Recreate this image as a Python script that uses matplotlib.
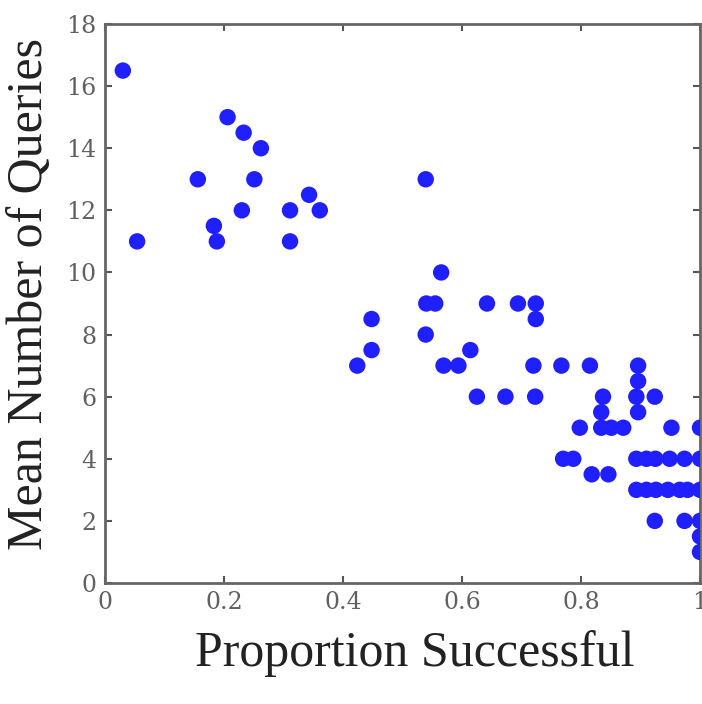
import numpy as np
from matplotlib import pyplot as plt

# proportion successful vs mean number of queries
prop_successful = [
    0.030, 0.054, 0.206, 0.233, 0.262, 0.156, 0.251, 0.230, 0.311, 0.343,
    0.361, 0.183, 0.188, 0.311,
    0.539, 0.565, 0.540, 0.555, 0.642, 0.694, 0.724, 0.724, 0.539,
    0.448, 0.448, 0.424,
    0.614, 0.569, 0.594, 0.720, 0.767, 0.815, 0.896, 0.896,
    0.625, 0.673, 0.723, 0.837, 0.893, 0.924,
    0.834, 0.896,
    0.798, 0.834, 0.851, 0.871, 0.952, 1.000,
    0.770, 0.787, 0.893, 0.910, 0.925, 0.949, 0.974, 1.000,
    0.818, 0.846,
    0.893, 0.910, 0.926, 0.946, 0.966, 0.979, 1.000,
    0.924, 0.974, 1.000, 1.000, 1.000,
]
mean_queries = [
    16.5, 11.0, 15.0, 14.5, 14.0, 13.0, 13.0, 12.0, 12.0, 12.5,
    12.0, 11.5, 11.0, 11.0,
    13.0, 10.0, 9.0, 9.0, 9.0, 9.0, 9.0, 8.5, 8.0,
    8.5, 7.5, 7.0,
    7.5, 7.0, 7.0, 7.0, 7.0, 7.0, 7.0, 6.5,
    6.0, 6.0, 6.0, 6.0, 6.0, 6.0,
    5.5, 5.5,
    5.0, 5.0, 5.0, 5.0, 5.0, 5.0,
    4.0, 4.0, 4.0, 4.0, 4.0, 4.0, 4.0, 4.0,
    3.5, 3.5,
    3.0, 3.0, 3.0, 3.0, 3.0, 3.0, 3.0,
    2.0, 2.0, 2.0, 1.5, 1.0,
]

x_ticks = [0, 0.2, 0.4, 0.6, 0.8, 1]
x_tick_labels = ["0", "0.2", "0.4", "0.6", "0.8", "1"]
y_ticks = list(range(0, 19, 2))

fig = plt.figure(figsize=(7.02, 7.04), dpi=100)
ax = fig.add_axes([105 / 702, 1 - 583 / 704, 595 / 702, 559 / 704])

ax.scatter(prop_successful, mean_queries, s=140, color="#1f1fff",
           edgecolors="none", zorder=3)

ax.set_xlim(0, 1)
ax.set_ylim(0, 18)
ax.set_xticks(x_ticks)
ax.set_xticklabels(x_tick_labels)
ax.set_yticks(y_ticks)

tick_color = "#606060"
for side in ax.spines.values():
    side.set_color("#666666")
    side.set_linewidth(2)
ax.tick_params(direction="in", length=5, width=1.5, color="#555555",
               top=True, right=True, labelsize=17, labelcolor=tick_color, pad=6)
for lab in ax.get_xticklabels() + ax.get_yticklabels():
    lab.set_family("DejaVu Serif")

ax.set_xlabel("Proportion Successful", fontsize=36, family="Liberation Serif",
              color="#222222", va="center")
ax.xaxis.set_label_coords((415 - 105) / 595, (583 - 654) / 559)
ax.set_ylabel("Mean Number of Queries", fontsize=36, family="Liberation Serif",
              color="#222222", va="center")
ax.yaxis.set_label_coords((30 - 105) / 595, (583 - 294) / 559)

plt.savefig("out.png")
